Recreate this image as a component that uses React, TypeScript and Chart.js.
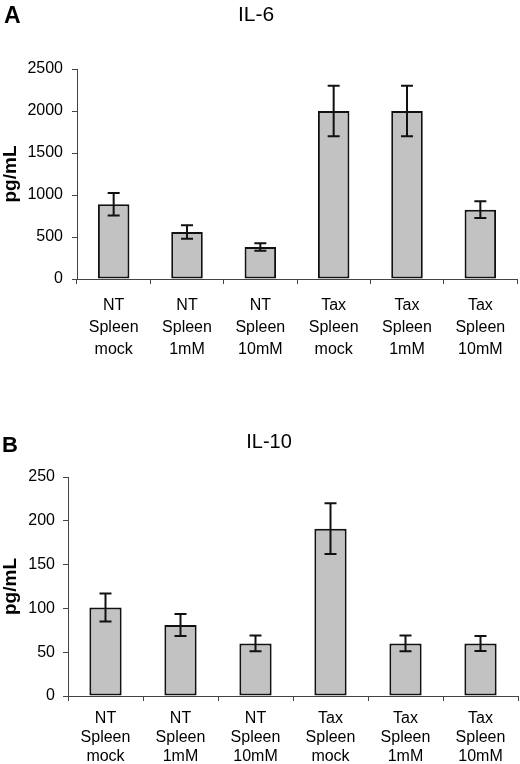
import { Chart, registerables } from "chart.js";
import { useEffect, useRef } from "react";

Chart.register(...registerables);

const categories = [
  ["NT", "Spleen", "mock"],
  ["NT", "Spleen", "1mM"],
  ["NT", "Spleen", "10mM"],
  ["Tax", "Spleen", "mock"],
  ["Tax", "Spleen", "1mM"],
  ["Tax", "Spleen", "10mM"],
];

const il6Values = [890, 560, 380, 2000, 2000, 825];
const il6Errors = [135, 80, 45, 300, 300, 100];
const il6Ticks = { max: 2500, step: 500 };

const il10Values = [101, 81, 60, 191, 60, 60];
const il10Errors = [16, 12.5, 9, 29, 9, 8.5];
const il10Ticks = { max: 250, step: 50 };

const FONT = "'Liberation Sans', Arial, Helvetica, sans-serif";

// draws mean +/- error whiskers on top of each bar
const errorBars = (errors: number[]) => ({
  id: "errorBars",
  afterDatasetsDraw(chart: any) {
    const { ctx, scales } = chart;
    const meta = chart.getDatasetMeta(0);
    const values = chart.data.datasets[0].data as number[];
    ctx.save();
    ctx.strokeStyle = "#111";
    ctx.lineWidth = 2;
    meta.data.forEach((bar: any, i: number) => {
      const top = scales.y.getPixelForValue(values[i] + errors[i]);
      const bottom = scales.y.getPixelForValue(values[i] - errors[i]);
      const half = 6;
      ctx.beginPath();
      ctx.moveTo(bar.x, top);
      ctx.lineTo(bar.x, bottom);
      ctx.moveTo(bar.x - half, top);
      ctx.lineTo(bar.x + half, top);
      ctx.moveTo(bar.x - half, bottom);
      ctx.lineTo(bar.x + half, bottom);
      ctx.stroke();
    });
    ctx.restore();
  },
});

type PanelProps = {
  values: number[];
  errors: number[];
  ticks: { max: number; step: number };
  height: number;
  area: { top: number; bottom: number; left: number; right: number };
  labelFont: number;
  labelLine: number;
  labelPad: number;
  tickPad: number;
};

const BarPanel = ({ values, errors, ticks, height, area, labelFont, labelLine, labelPad, tickPad }: PanelProps) => {
  const canvasRef = useRef<HTMLCanvasElement | null>(null);
  const chartRef = useRef<Chart | null>(null);

  useEffect(() => {
    if (chartRef.current) chartRef.current.destroy();
    if (!canvasRef.current) return;

    chartRef.current = new Chart(canvasRef.current, {
      type: "bar",
      data: {
        labels: categories,
        datasets: [
          {
            data: values,
            backgroundColor: "#c2c2c2",
            borderColor: "#111",
            borderWidth: 2,
            borderSkipped: false,
            categoryPercentage: 1,
            barPercentage: 0.43,
          },
        ],
      },
      options: {
        responsive: false,
        animation: false,
        devicePixelRatio: 1,
        layout: { padding: { top: area.top, right: 520 - area.right, left: 0, bottom: 0 } },
        plugins: { legend: { display: false }, tooltip: { enabled: false }, title: { display: false } },
        scales: {
          x: {
            border: { display: true, color: "#444", width: 1 },
            grid: { offset: true, drawOnChartArea: false, drawTicks: true, tickLength: 5, color: "#444" },
            ticks: {
              color: "#000",
              padding: labelPad,
              maxRotation: 0,
              autoSkip: false,
              font: { family: FONT, size: labelFont, lineHeight: labelLine },
            },
            afterFit: (scale: any) => {
              scale.height = height - area.bottom;
            },
          },
          y: {
            min: 0,
            max: ticks.max,
            border: { display: true, color: "#444", width: 1 },
            grid: { drawOnChartArea: false, drawTicks: true, tickLength: 5, color: "#444" },
            ticks: {
              stepSize: ticks.step,
              color: "#000",
              padding: tickPad,
              font: { family: FONT, size: 16 },
              callback: (v: any) => String(v),
            },
            title: {
              display: true,
              text: "pg/mL",
              color: "#000",
              padding: 0,
              font: { family: FONT, size: 19, weight: "bold", lineHeight: 1.1 },
            },
            afterFit: (scale: any) => {
              scale.width = area.left;
            },
          },
        },
      },
      plugins: [errorBars(errors)],
    });

    return () => {
      if (chartRef.current) {
        chartRef.current.destroy();
        chartRef.current = null;
      }
    };
  }, [values, errors]);

  return <canvas ref={canvasRef} width={520} height={height} style={{ display: "block" }} />;
};

const text = (extra: any) => ({
  position: "absolute" as const,
  fontFamily: FONT,
  lineHeight: 1,
  color: "#000",
  whiteSpace: "nowrap" as const,
  ...extra,
});

const App = () => {
  return (
    <div style={{ position: "absolute", left: 0, top: 0, width: 520, height: 764, background: "#fff", overflow: "hidden" }}>
      <div style={{ position: "absolute", left: 0, top: 0 }}>
        <BarPanel
          values={il6Values}
          errors={il6Errors}
          ticks={il6Ticks}
          height={380}
          area={{ top: 69, bottom: 279, left: 77, right: 517 }}
          labelFont={16}
          labelLine={1.375}
          labelPad={11}
          tickPad={9}
        />
      </div>
      <div style={{ position: "absolute", left: 0, top: 380 }}>
        <BarPanel
          values={il10Values}
          errors={il10Errors}
          ticks={il10Ticks}
          height={384}
          area={{ top: 97, bottom: 316, left: 68, right: 518 }}
          labelFont={16}
          labelLine={1.2}
          labelPad={8}
          tickPad={8}
        />
      </div>
      <div style={text({ left: 4, top: 4, fontSize: 23, fontWeight: "bold" })}>A</div>
      <div style={text({ left: 0, width: 512, top: 3, fontSize: 21, textAlign: "center" })}>IL-6</div>
      <div style={text({ left: 2, top: 434, fontSize: 22, fontWeight: "bold" })}>B</div>
      <div style={text({ left: 0, width: 538, top: 431, fontSize: 20, textAlign: "center" })}>IL-10</div>
    </div>
  );
};

export default App;
